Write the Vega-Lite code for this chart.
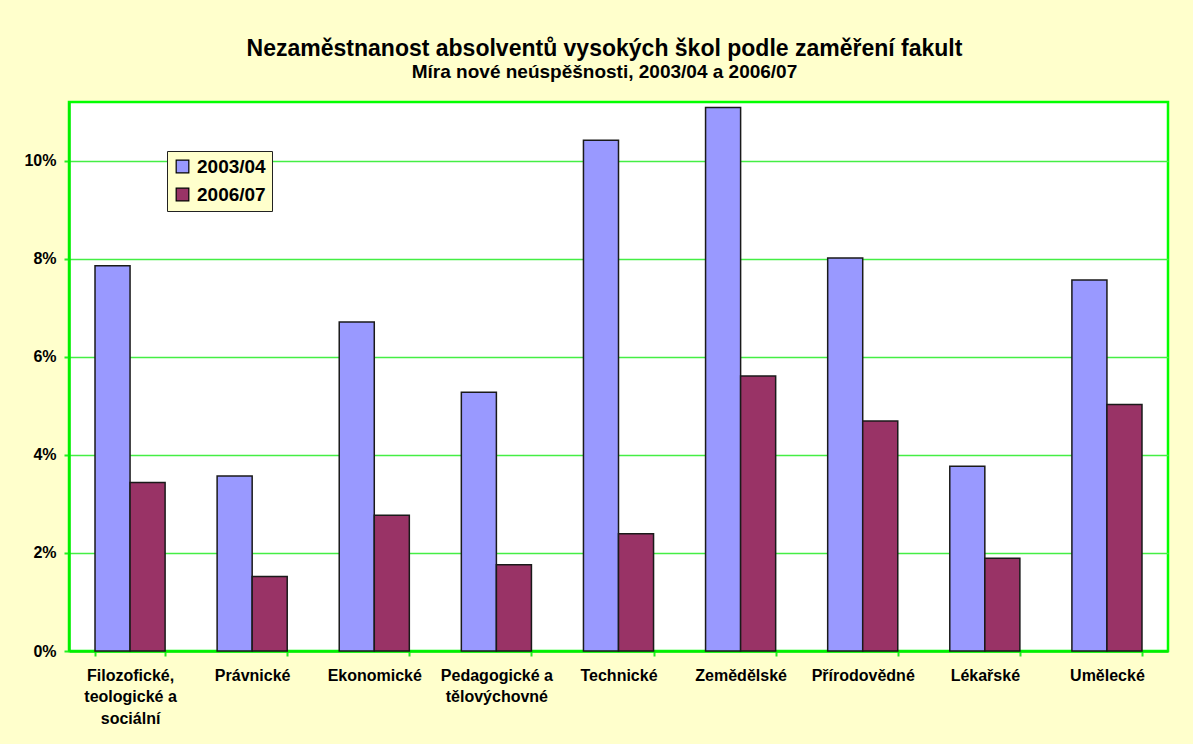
{
  "$schema": "https://vega.github.io/schema/vega-lite/v6.json",
  "width": 1099,
  "height": 549,
  "autosize": {"type": "none"},
  "padding": {"left": 69, "top": 102, "right": 25, "bottom": 93},
  "background": "#FFFFCC",
  "title": {
    "text": "Nezaměstnanost absolventů vysokých škol podle zaměření fakult",
    "subtitle": "Míra nové neúspěšnosti, 2003/04 a 2006/07",
    "anchor": "middle",
    "frame": "group",
    "dx": -14,
    "font": "Liberation Sans",
    "fontSize": 23,
    "fontWeight": "bold",
    "color": "#000000",
    "subtitleFont": "Liberation Sans",
    "subtitleFontSize": 19,
    "subtitleFontWeight": "bold",
    "subtitleColor": "#000000",
    "subtitlePadding": 2,
    "offset": 20
  },
  "data": {
    "values": [
      {"obor": "Filozofické, teologické a sociální", "obdobi": "2003/04", "mira": 0.0786},
      {"obor": "Filozofické, teologické a sociální", "obdobi": "2006/07", "mira": 0.0344},
      {"obor": "Právnické", "obdobi": "2003/04", "mira": 0.0357},
      {"obor": "Právnické", "obdobi": "2006/07", "mira": 0.0152},
      {"obor": "Ekonomické", "obdobi": "2003/04", "mira": 0.0671},
      {"obor": "Ekonomické", "obdobi": "2006/07", "mira": 0.0277},
      {"obor": "Pedagogické a tělovýchovné", "obdobi": "2003/04", "mira": 0.0528},
      {"obor": "Pedagogické a tělovýchovné", "obdobi": "2006/07", "mira": 0.0176},
      {"obor": "Technické", "obdobi": "2003/04", "mira": 0.1042},
      {"obor": "Technické", "obdobi": "2006/07", "mira": 0.0239},
      {"obor": "Zemědělské", "obdobi": "2003/04", "mira": 0.1109},
      {"obor": "Zemědělské", "obdobi": "2006/07", "mira": 0.0561},
      {"obor": "Přírodovědné", "obdobi": "2003/04", "mira": 0.0802},
      {"obor": "Přírodovědné", "obdobi": "2006/07", "mira": 0.0469},
      {"obor": "Lékařské", "obdobi": "2003/04", "mira": 0.0377},
      {"obor": "Lékařské", "obdobi": "2006/07", "mira": 0.0189},
      {"obor": "Umělecké", "obdobi": "2003/04", "mira": 0.0757},
      {"obor": "Umělecké", "obdobi": "2006/07", "mira": 0.0503}
    ]
  },
  "mark": {"type": "bar", "stroke": "#1a1a1a", "strokeWidth": 1.5},
  "encoding": {
    "x": {
      "field": "obor",
      "type": "nominal",
      "sort": null,
      "title": null,
      "scale": {"paddingInner": 0.426, "paddingOuter": 0.213},
      "axis": {
        "labelAngle": 0,
        "labelFont": "Liberation Sans",
        "labelFontSize": 16,
        "labelFontWeight": "bold",
        "labelColor": "#000000",
        "labelPadding": 11,
        "labelLineHeight": 21.5,
        "labelLimit": 200,
        "labelExpr": "datum.label == 'Filozofické, teologické a sociální' ? ['Filozofické,', 'teologické a', 'sociální'] : datum.label == 'Pedagogické a tělovýchovné' ? ['Pedagogické a', 'tělovýchovné'] : datum.label",
        "tickBand": "extent",
        "tickColor": "#22EE22",
        "tickSize": 5,
        "tickWidth": 2,
        "domainColor": "#00EE00",
        "domainWidth": 2.5
      }
    },
    "xOffset": {"field": "obdobi", "type": "nominal", "scale": {"paddingInner": 0, "paddingOuter": 0}},
    "y": {
      "field": "mira",
      "type": "quantitative",
      "title": null,
      "scale": {"domain": [0, 0.112], "nice": false},
      "axis": {
        "values": [0, 0.02, 0.04, 0.06, 0.08, 0.1],
        "format": ".0%",
        "labelFont": "Liberation Sans",
        "labelFontSize": 16,
        "labelFontWeight": "bold",
        "labelColor": "#000000",
        "labelPadding": 8,
        "tickColor": "#22EE22",
        "tickSize": 5,
        "tickWidth": 2,
        "domainColor": "#00EE00",
        "domainWidth": 2.5,
        "grid": true,
        "gridColor": "#44EE44",
        "gridWidth": 1.5
      }
    },
    "color": {
      "field": "obdobi",
      "type": "nominal",
      "scale": {"domain": ["2003/04", "2006/07"], "range": ["#9999FF", "#993366"]},
      "legend": {
        "title": null,
        "orient": "none",
        "legendX": 98,
        "legendY": 49,
        "fillColor": "#FFFFCC",
        "strokeColor": "#222222",
        "padding": 6,
        "symbolType": "square",
        "symbolSize": 160,
        "symbolStrokeColor": "#000000",
        "symbolStrokeWidth": 1.2,
        "symbolOpacity": 1,
        "labelFont": "Liberation Sans",
        "labelFontSize": 19,
        "labelFontWeight": "bold",
        "labelColor": "#000000",
        "labelOffset": 5,
        "rowPadding": 8
      }
    }
  },
  "config": {
    "view": {"fill": "#FFFFFF", "stroke": "#00FF00", "strokeWidth": 2.5}
  }
}
